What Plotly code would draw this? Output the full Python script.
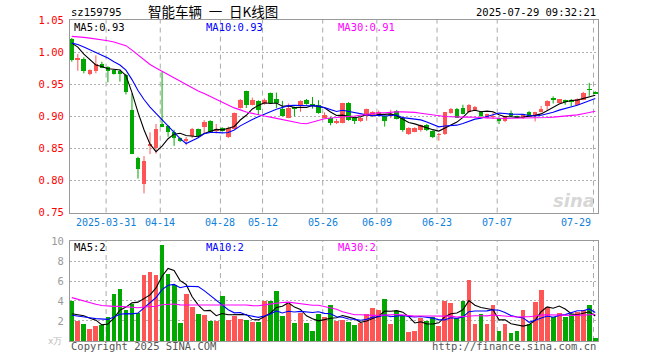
import plotly.graph_objects as go
import pandas as pd

# ---------------- data ----------------
dates = [
    "2025-03-21", "2025-03-24", "2025-03-25", "2025-03-26", "2025-03-27", "2025-03-28", "2025-03-31",
    "2025-04-01", "2025-04-02", "2025-04-03", "2025-04-07", "2025-04-08", "2025-04-09", "2025-04-10",
    "2025-04-11", "2025-04-14", "2025-04-15", "2025-04-16", "2025-04-17", "2025-04-18", "2025-04-21",
    "2025-04-22", "2025-04-23", "2025-04-24", "2025-04-25", "2025-04-28", "2025-04-29", "2025-04-30",
    "2025-05-06", "2025-05-07", "2025-05-08", "2025-05-09", "2025-05-12", "2025-05-13", "2025-05-14",
    "2025-05-15", "2025-05-16", "2025-05-19", "2025-05-20", "2025-05-21", "2025-05-22", "2025-05-23",
    "2025-05-26", "2025-05-27", "2025-05-28", "2025-05-29", "2025-05-30", "2025-06-03", "2025-06-04",
    "2025-06-05", "2025-06-06", "2025-06-09", "2025-06-10", "2025-06-11", "2025-06-12", "2025-06-13",
    "2025-06-16", "2025-06-17", "2025-06-18", "2025-06-19", "2025-06-20", "2025-06-23", "2025-06-24",
    "2025-06-25", "2025-06-26", "2025-06-27", "2025-06-30", "2025-07-01", "2025-07-02", "2025-07-03",
    "2025-07-04", "2025-07-07", "2025-07-08", "2025-07-09", "2025-07-10", "2025-07-11", "2025-07-14",
    "2025-07-15", "2025-07-16", "2025-07-17", "2025-07-18", "2025-07-21", "2025-07-22", "2025-07-23",
    "2025-07-24", "2025-07-25", "2025-07-28", "2025-07-29",
]

open_ = [
    1.021, 0.988, 0.990, 0.966, 0.971, 0.981, 0.977, 0.972, 0.970, 0.965, 0.910, 0.835, 0.794, 0.854,
    0.850, 0.888, 0.885, 0.875, 0.866, 0.862, 0.869, 0.880, 0.883, 0.893, 0.878, 0.882, 0.868, 0.881,
    0.913, 0.939, 0.918, 0.924, 0.919, 0.936, 0.927, 0.912, 0.898, 0.914, 0.916, 0.926, 0.919, 0.918,
    0.898, 0.898, 0.890, 0.890, 0.921, 0.897, 0.892, 0.901, 0.902, 0.904, 0.900, 0.902, 0.909, 0.897,
    0.872, 0.876, 0.878, 0.887, 0.877, 0.871, 0.872, 0.905, 0.911, 0.913, 0.906, 0.910, 0.907, 0.898,
    0.899, 0.897, 0.892, 0.905, 0.900, 0.897, 0.907, 0.900, 0.907, 0.916, 0.927, 0.921, 0.924, 0.924,
    0.918, 0.926, 0.942, 0.938,
]
high = [
    1.022, 0.997, 0.992, 0.973, 0.995, 0.985, 0.978, 0.973, 0.973, 0.966, 0.936, 0.837, 0.838, 0.875,
    0.888, 0.969, 0.886, 0.879, 0.867, 0.868, 0.882, 0.881, 0.894, 0.894, 0.888, 0.883, 0.884, 0.906,
    0.927, 0.940, 0.929, 0.925, 0.928, 0.937, 0.937, 0.924, 0.920, 0.915, 0.925, 0.927, 0.930, 0.925,
    0.906, 0.899, 0.896, 0.921, 0.922, 0.898, 0.899, 0.912, 0.908, 0.909, 0.901, 0.910, 0.910, 0.898,
    0.883, 0.883, 0.887, 0.888, 0.878, 0.874, 0.906, 0.913, 0.913, 0.918, 0.919, 0.916, 0.908, 0.904,
    0.906, 0.898, 0.901, 0.909, 0.901, 0.903, 0.908, 0.907, 0.916, 0.925, 0.931, 0.927, 0.926, 0.927,
    0.928, 0.938, 0.952, 0.939,
]
low = [
    0.985, 0.971, 0.967, 0.964, 0.967, 0.975, 0.953, 0.965, 0.954, 0.934, 0.841, 0.803, 0.780, 0.841,
    0.842, 0.883, 0.868, 0.854, 0.860, 0.855, 0.866, 0.867, 0.873, 0.875, 0.873, 0.876, 0.866, 0.880,
    0.912, 0.913, 0.917, 0.902, 0.918, 0.920, 0.913, 0.900, 0.897, 0.900, 0.907, 0.918, 0.912, 0.904,
    0.897, 0.886, 0.888, 0.889, 0.893, 0.888, 0.891, 0.893, 0.900, 0.902, 0.884, 0.897, 0.895, 0.876,
    0.871, 0.875, 0.876, 0.877, 0.866, 0.862, 0.871, 0.904, 0.898, 0.903, 0.905, 0.909, 0.897, 0.897,
    0.896, 0.888, 0.891, 0.899, 0.897, 0.896, 0.899, 0.892, 0.906, 0.910, 0.920, 0.920, 0.918, 0.916,
    0.917, 0.925, 0.932, 0.936,
]
close = [
    0.988, 0.989, 0.970, 0.972, 0.981, 0.976, 0.971, 0.966, 0.967, 0.938, 0.842, 0.818, 0.830, 0.855,
    0.880, 0.884, 0.876, 0.866, 0.862, 0.863, 0.881, 0.869, 0.891, 0.876, 0.881, 0.877, 0.882, 0.905,
    0.926, 0.918, 0.926, 0.910, 0.925, 0.921, 0.921, 0.901, 0.913, 0.912, 0.924, 0.919, 0.917, 0.905,
    0.902, 0.890, 0.892, 0.920, 0.895, 0.892, 0.898, 0.911, 0.907, 0.907, 0.892, 0.902, 0.896, 0.879,
    0.882, 0.882, 0.886, 0.878, 0.868, 0.871, 0.906, 0.912, 0.898, 0.904, 0.918, 0.915, 0.900, 0.903,
    0.900, 0.894, 0.900, 0.900, 0.898, 0.902, 0.900, 0.907, 0.912, 0.924, 0.926, 0.927, 0.923, 0.923,
    0.927, 0.937, 0.941, 0.936,
]
# volume, 10k lots
volume = [
    4.00, 2.00, 1.67, 1.24, 1.50, 1.64, 2.40, 4.67, 5.17, 3.07, 3.74, 2.80, 6.57, 6.87,
    6.57, 9.57, 6.67, 5.57, 1.80, 4.67, 3.40, 2.67, 2.57, 2.00, 2.00, 4.47, 2.07, 2.50,
    2.17, 2.07, 1.90, 1.90, 4.00, 4.00, 4.97, 2.50, 3.67, 1.80, 2.84, 1.80, 0.97, 2.67,
    2.40, 3.57, 2.00, 2.07, 1.90, 1.57, 1.80, 2.67, 3.27, 3.07, 4.17, 1.67, 3.00, 2.50,
    0.87, 0.97, 2.27, 1.97, 2.40, 1.50, 4.00, 3.77, 2.34, 4.00, 6.07, 1.67, 2.67, 1.67,
    3.57, 0.97, 1.67, 0.77, 0.97, 3.07, 1.67, 3.87, 5.07, 3.37, 2.40, 2.77, 2.40, 2.67,
    2.90, 3.07, 3.57, 0.27,
]
# sessions before the visible window (needed for the moving averages)
hist_close = [1.000, 1.005, 1.010, 1.012, 1.018, 1.022, 1.025, 1.035, 1.038, 1.048, 1.055, 1.062,
              1.058, 1.046, 1.040, 1.032, 1.025, 1.020, 1.024, 1.020, 1.012, 1.008, 1.015, 1.018,
              1.017, 1.020, 1.025, 1.018, 1.019]
hist_volume = [7.5, 6.8, 6.2, 5.8, 5.4, 4.85, 4.9, 5.2, 4.6, 4.4, 4.6, 4.4, 5.8, 5.4, 5.0, 4.9,
               5.1, 4.6, 4.7, 4.35, 2.6, 2.3, 2.5, 2.3, 2.35, 2.5, 2.2, 2.45, 2.5]

label_dates = ["2025-03-31", "2025-04-14", "2025-04-28", "2025-05-12", "2025-05-26",
               "2025-06-09", "2025-06-23", "2025-07-07", "2025-07-29"]
price_ticks = [0.75, 0.80, 0.85, 0.90, 0.95, 1.00, 1.05]
vol_ticks = [2, 4, 6, 8, 10]
ma_periods = [5, 10, 30]

code = "sz159795"
title = "智能车辆\u2002一\u2002日K线图"
stamp = "2025-07-29 09:32:21"

# ---------------- derived ----------------
RED = "#ff5555"
GREEN = "#00a800"
MA_COLORS = {5: "#000000", 10: "#0000ff", 30: "#ff00ff"}
MONO = "DejaVu Sans Mono"

n = len(dates)
xs = list(range(n))
colors = [RED if c >= o else GREEN for o, c in zip(open_, close)]

pc = pd.Series(hist_close + close)
pv = pd.Series(hist_volume + volume)
nh = len(hist_close)
ma_p = {p: pc.rolling(p).mean().iloc[nh:].tolist() for p in ma_periods}
ma_v = {p: pv.rolling(p).mean().iloc[nh:].tolist() for p in ma_periods}

W, H = 660, 360
ML, MR, MT, MB = 70, 62, 20, 19
PW, PH = W - ML - MR, H - MT - MB


def px_x(x):
    return (x - ML) / PW


def px_y(y):
    return (H - MB - y) / PH


fig = go.Figure()

# candle bodies
bases = [min(o, c) for o, c in zip(open_, close)]
heights = [max(abs(c - o), 0.0014) for o, c in zip(open_, close)]
fig.add_trace(go.Bar(x=xs, y=heights, base=bases, width=0.78, marker_color=colors,
                     marker_line_width=0, xaxis="x", yaxis="y", hoverinfo="skip"))

# wicks
for col in (RED, GREEN):
    wx, wy = [], []
    for i in xs:
        if colors[i] == col:
            wx += [i, i, None]
            wy += [low[i], high[i], None]
    fig.add_trace(go.Scatter(x=wx, y=wy, mode="lines", line=dict(color=col, width=1),
                             xaxis="x", yaxis="y", hoverinfo="skip"))

for p in ma_periods:
    fig.add_trace(go.Scatter(x=xs, y=ma_p[p], mode="lines",
                             line=dict(color=MA_COLORS[p], width=1.1),
                             xaxis="x", yaxis="y", hoverinfo="skip"))

# volume
fig.add_trace(go.Bar(x=xs, y=volume, width=0.8, marker_color=colors, marker_line_width=0,
                     xaxis="x2", yaxis="y2", hoverinfo="skip"))
for p in ma_periods:
    fig.add_trace(go.Scatter(x=xs, y=ma_v[p], mode="lines",
                             line=dict(color=MA_COLORS[p], width=1.1),
                             xaxis="x2", yaxis="y2", hoverinfo="skip"))

# vertical dashed grid lines at labelled dates
grid_idx = [dates.index(d) for d in label_dates]
shapes = []
for gi in grid_idx:
    for xa, ya in (("x", "y"), ("x2", "y2")):
        shapes.append(dict(type="line", xref=xa, yref=ya + " domain", x0=gi - 0.3, x1=gi - 0.3,
                           y0=0, y1=1, line=dict(color="#aaaaaa", width=1, dash="5px,4px"),
                           layer="below"))

annotations = []
for j, gi in enumerate(grid_idx):
    txt = label_dates[j] if j == 0 else label_dates[j][5:]
    last = j == len(grid_idx) - 1
    annotations.append(dict(x=gi - 0.3, xref="x", y=px_y(222), yref="paper", text=txt,
                            showarrow=False, xanchor="right" if last else "center",
                            yanchor="middle", font=dict(family=MONO, size=10, color="#1080d8")))

def ann(x, y, text, color="#000", size=10, xanchor="left", family=MONO, **kw):
    annotations.append(dict(x=px_x(x), y=px_y(y), xref="paper", yref="paper", text=text,
                            showarrow=False, xanchor=xanchor, yanchor="middle",
                            font=dict(family=family, size=size, color=color), **kw))

ann(69, 12, code, size=10.5)
ann(213, 11, title, size=13.5, xanchor="center", family="Noto Sans CJK SC")
ann(598, 12, stamp, size=10.5, xanchor="right")

leg_x = {5: 72, 10: 204, 30: 336}
for p in ma_periods:
    ann(leg_x[p], 27, f"MA{p}:{ma_p[p][-1]:.2f}", color=MA_COLORS[p], size=10.5)
    ann(leg_x[p], 247, f"MA{p}:{int(ma_v[p][-1])}", color=MA_COLORS[p], size=10.5)

ann(69, 346, "Copyright 2025 SINA.COM", color="#555555", size=10.5)
ann(598, 346, "http://finance.sina.com.cn", color="#555555", size=10.5, xanchor="right")
ann(64, 341, "x万", color="#bbbbbb", size=9, xanchor="right")
ann(597, 200, "<b><i>sina</i></b>", color="rgba(150,150,150,0.4)", size=18,
    xanchor="right", family="DejaVu Sans")

frame = dict(showline=True, mirror=True, linecolor="#999999", linewidth=1, zeroline=False)

fig.update_layout(
    width=W, height=H, margin=dict(l=ML, r=MR, t=MT, b=MB),
    paper_bgcolor="white", plot_bgcolor="white", showlegend=False,
    barmode="overlay", bargap=0,
    font=dict(family=MONO, size=10),
    shapes=shapes, annotations=annotations,
    xaxis=dict(domain=[0, 1], range=[-0.3, n - 0.55], anchor="y", showgrid=False,
               showticklabels=False, ticks="", **frame),
    xaxis2=dict(domain=[0, 1], range=[-0.3, n - 0.55], anchor="y2", matches="x",
                showgrid=False, showticklabels=False, ticks="", **frame),
    yaxis=dict(domain=[0.4, 1.0], range=[price_ticks[0], price_ticks[-1]], anchor="x",
               tickvals=price_ticks, ticktext=[f"{t:.2f}" for t in price_ticks],
               tickfont=dict(family=MONO, size=10.5, color="#ff0000"),
               showgrid=True, gridcolor="#b0b0b0", griddash="2px,2px", gridwidth=1,
               ticks="", ticklabelstandoff=3, **frame),
    yaxis2=dict(domain=[0, 0.3115], range=[0, vol_ticks[-1]], anchor="x2",
                tickvals=vol_ticks, ticktext=[str(t) for t in vol_ticks],
                tickfont=dict(family=MONO, size=10.5, color="#999999"),
                showgrid=True, gridcolor="#b0b0b0", griddash="2px,2px", gridwidth=1,
                ticks="", ticklabelstandoff=3, **frame),
)

fig.write_html("out.html", config={"displayModeBar": False})
